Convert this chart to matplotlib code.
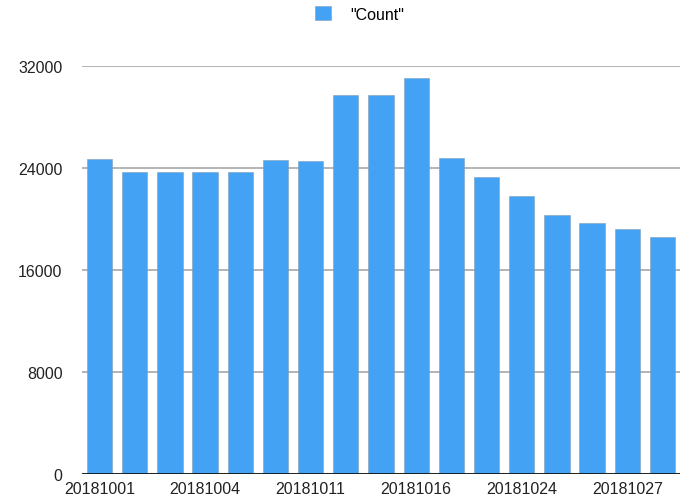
import matplotlib
matplotlib.use("Agg")
import matplotlib.pyplot as plt
from matplotlib.patches import Patch

plt.rcParams['font.family'] = ['Liberation Sans', 'DejaVu Sans']

dates = ["20181001", "20181002", "20181003", "20181004", "20181005", "20181008",
         "20181011", "20181012", "20181015", "20181016", "20181017", "20181018",
         "20181024", "20181025", "20181026", "20181027", "20181028"]
counts = [24700, 23700, 23700, 23700, 23700, 24600, 24550, 29700, 29700, 31000,
          24750, 23300, 21800, 20300, 19700, 19200, 18600]
yticks = [0, 8000, 16000, 24000, 32000]
label_every = 3
series_name = '"Count"'

bar_color = "#44A2F4"
font_size = 11.5

fig = plt.figure(figsize=(6.89, 5.02), dpi=100)
ax = fig.add_axes([82 / 689, 1 - 475.3 / 502, (680 - 82) / 689, (475.3 - 66.7) / 502])

x = list(range(len(dates)))
ax.bar(x, counts, width=0.72, color=bar_color, edgecolor="#7f9fba",
       linewidth=0.4, zorder=3)

ax.set_xlim(-0.5, len(dates) - 0.5)
ax.set_ylim(0, 32000)
ax.set_yticks(yticks)
ax.set_yticklabels([str(v) for v in yticks], fontsize=font_size, color="#222222")
ax.set_xticks(x[::label_every])
ax.set_xticklabels(dates[::label_every], fontsize=font_size, color="#222222")

for v in yticks[1:]:
    ax.axhline(v, color="#b3b3b3", linewidth=1.4, zorder=1)
ax.axhline(0, color="#111111", linewidth=1.3, zorder=4)

for s in ax.spines.values():
    s.set_visible(False)
ax.tick_params(axis="y", length=0, pad=14)
ax.tick_params(axis="x", length=0, pad=5)

fig.legend(handles=[Patch(facecolor=bar_color, edgecolor="#7f9fba", linewidth=0.4)],
           labels=[series_name], loc="center", bbox_to_anchor=(360 / 689, 1 - 15 / 502),
           frameon=False, fontsize=font_size, handlelength=1.0, handleheight=1.0,
           handletextpad=1.2)

fig.savefig("out.png", dpi=100)
